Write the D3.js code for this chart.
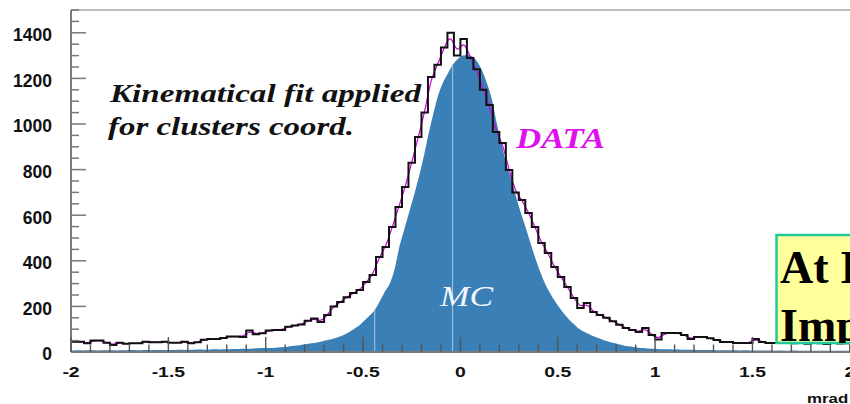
<!DOCTYPE html>
<html><head><meta charset="utf-8">
<script src="https://cdn.jsdelivr.net/npm/d3@7/dist/d3.min.js"></script>
<style>html,body{margin:0;padding:0;background:#fff;overflow:hidden}</style>
</head><body>
<svg id="chart" width="850" height="404"></svg>
<script>
// ---------- data ----------
const xDomain = [-2, 2];
const yDomain = [0, 1500];
const xTickLabels = ["-2", "-1.5", "-1", "-0.5", "0", "0.5", "1", "1.5", "2"];
const yTickLabels = ["0", "200", "400", "600", "800", "1000", "1200", "1400"];
const xUnit = "mrad";

// DATA histogram: 120 bins from -2 to 2
const dataCounts = [
  45, 45, 38, 50, 50, 41, 31, 41, 36, 38,
  38, 45, 43, 43, 45, 41, 41, 45, 38, 43,
  54, 57, 57, 61, 68, 68, 66, 94, 78, 82,
  94, 97, 97, 111, 116, 121, 137, 147, 132, 162,
  200, 219, 240, 259, 272, 307, 338, 417, 461, 548,
  636, 724, 830, 943, 1050, 1206, 1260, 1335, 1400, 1300,
  1373, 1290, 1240, 1150, 1083, 965, 917, 798, 700, 667,
  610, 548, 478, 434, 373, 329, 285, 237, 193, 215,
  175, 162, 150, 135, 120, 105, 96, 88, 105, 75,
  55, 83, 83, 83, 75, 57, 66, 66, 60, 53,
  44, 44, 40, 40, 40, 57, 44, 40, 40, 42,
  40, 38, 42, 36, 40, 38, 35, 40, 37, 38
];

// MC histogram: 160 bins from -2 to 2
const mcCounts = [
  7, 8, 7, 8, 8, 7, 8, 8, 8, 7, 8, 8, 9, 8, 8, 9, 8, 9, 9, 8,
  9, 9, 10, 9, 10, 10, 11, 10, 11, 12, 11, 12,
  12, 13, 13, 14, 14, 15, 16, 17,
  17, 18, 20, 21, 23, 26, 28, 32,
  35, 38, 42, 46, 51, 56, 62, 70,
  80, 92, 106, 122,
  142, 163, 188, 225,
  265, 300, 365, 465,
  540, 615, 690, 770,
  860, 960, 1050, 1130,
  1185, 1225, 1262, 1285,
  1300, 1303, 1296, 1272,
  1232, 1175, 1105, 1000,
  910, 820, 754, 675,
  605, 540, 470, 405,
  345, 295, 255, 220,
  190, 162, 138, 118,
  100, 88, 78, 68,
  60, 52, 45, 39,
  34, 29, 25, 22,
  19, 17, 15, 14,
  13, 12, 12, 11, 11, 10, 10, 10, 9, 9, 9, 9, 8, 8, 8, 8, 8, 7, 8, 7,
  7, 7, 7, 7, 6, 7, 6, 6, 7, 6, 6, 6, 6, 6, 6, 5, 6, 6, 5, 5
];
// thin empty lines seen inside the MC fill
const mcGapX = [-0.44, -0.04];

const noteLines = ["Kinematical fit applied", "for clusters coord."];
const dataLabel = "DATA";
const mcLabel = "MC";
const boxLines = ["At I", "Imp"];

// ---------- layout ----------
const svg = d3.select("#chart");
const x = d3.scaleLinear().domain(xDomain).range([71, 849.8]);
const y = d3.scaleLinear().domain(yDomain).range([352, 10]);

function edges(counts) {
  const w = (xDomain[1] - xDomain[0]) / counts.length;
  const pts = counts.map((v, i) => ({ x: xDomain[0] + i * w, v }));
  pts.push({ x: xDomain[1], v: counts[counts.length - 1] });
  return pts;
}
function centers(counts) {
  const w = (xDomain[1] - xDomain[0]) / counts.length;
  return counts.map((v, i) => ({ x: xDomain[0] + (i + 0.5) * w, v }));
}
function centersWithEnds(counts) {
  const c = centers(counts);
  return [{ x: xDomain[0], v: counts[0] }, ...c, { x: xDomain[1], v: counts[counts.length - 1] }];
}

// top frame line
svg.append("line").attr("x1", x(xDomain[0])).attr("x2", 850)
  .attr("y1", y(yDomain[1])).attr("y2", y(yDomain[1]))
  .attr("stroke", "#aaa").attr("stroke-width", 1.5);

// MC filled histogram (finely binned -> smooth outline)
const mcArea = d3.area().curve(d3.curveMonotoneX)
  .x(d => x(d.x)).y0(y(0)).y1(d => y(d.v));
svg.append("path").datum(centersWithEnds(mcCounts)).attr("d", mcArea)
  .attr("fill", "#3a7fb5");

// gaps in MC
const mcW = (xDomain[1] - xDomain[0]) / mcCounts.length;
svg.selectAll(".gap").data(mcGapX).join("line")
  .attr("x1", d => x(d)).attr("x2", d => x(d))
  .attr("y1", y(0))
  .attr("y2", d => y(mcCounts[Math.floor((d - xDomain[0]) / mcW)]))
  .attr("stroke", "#a9c8e2").attr("stroke-width", 1);

// magenta smooth curve through data
const smooth = d3.line().curve(d3.curveBasis).x(d => x(d.x)).y(d => y(d.v));
svg.append("path").datum(centers(dataCounts)).attr("d", smooth)
  .attr("fill", "none").attr("stroke", "#d000e0").attr("stroke-width", 1.2);

// black data steps
const step = d3.line().curve(d3.curveStepAfter).x(d => x(d.x)).y(d => y(d.v));
svg.append("path").datum(edges(dataCounts)).attr("d", step)
  .attr("fill", "none").attr("stroke", "#111").attr("stroke-width", 2);

// ---------- axes ----------
const axisG = svg.append("g");
axisG.append("line").attr("x1", x(xDomain[0])).attr("x2", x(xDomain[0]))
  .attr("y1", y(yDomain[1])).attr("y2", y(0))
  .attr("stroke", "#7a7a7a").attr("stroke-width", 2);
axisG.append("line").attr("x1", x(xDomain[0])).attr("x2", 850)
  .attr("y1", y(0)).attr("y2", y(0))
  .attr("stroke", "#7a7a7a").attr("stroke-width", 2);

// y ticks
const yMinor = d3.range(0, yDomain[1] + 1, 50);
axisG.selectAll(".ytick").data(yMinor).join("line")
  .attr("x1", x(xDomain[0])).attr("x2", d => x(xDomain[0]) + (d % 200 === 0 ? 15 : 8))
  .attr("y1", d => y(d)).attr("y2", d => y(d))
  .attr("stroke", "#777").attr("stroke-width", 1.5);
axisG.selectAll(".ylab").data(yTickLabels).join("text")
  .attr("x", 52).attr("y", d => y(+d) + 8.3)
  .attr("text-anchor", "end")
  .attr("font-family", "Liberation Sans, Arial, sans-serif")
  .attr("font-weight", "bold").attr("font-size", 17.5).attr("fill", "#111")
  .text(d => d);

// x ticks
const xMinor = d3.range(-20, 21).map(i => i / 10);
axisG.selectAll(".xtick").data(xMinor).join("line")
  .attr("x1", d => x(d)).attr("x2", d => x(d))
  .attr("y1", y(0)).attr("y2", d => y(0) - (Math.abs(Math.round(d * 10)) % 5 === 0 ? 15 : 7.5))
  .attr("stroke", "#555").attr("stroke-width", 1.4);
axisG.selectAll(".xlab").data(xTickLabels).join("text")
  .attr("transform", d => `translate(${x(+d)},376.5) scale(1.25,1)`)
  .attr("text-anchor", "middle")
  .attr("font-family", "Liberation Sans, Arial, sans-serif")
  .attr("font-weight", "bold").attr("font-size", 15.5).attr("fill", "#111")
  .text(d => d);
svg.append("text").attr("transform", "translate(807,403) scale(1.25,1)")
  .attr("font-family", "Liberation Sans, Arial, sans-serif")
  .attr("font-weight", "bold").attr("font-size", 13.5).attr("fill", "#111")
  .text(xUnit);

// ---------- annotations ----------
const serif = "Liberation Serif, Times New Roman, serif";
const noteG = svg.append("g").attr("font-family", serif)
  .attr("font-style", "italic").attr("font-weight", "bold")
  .attr("font-size", 26).attr("fill", "#111");
noteG.append("text").attr("x", 110).attr("y", 102)
  .attr("textLength", 311).attr("lengthAdjust", "spacingAndGlyphs").text(noteLines[0]);
noteG.append("text").attr("x", 108).attr("y", 135)
  .attr("textLength", 246).attr("lengthAdjust", "spacingAndGlyphs").text(noteLines[1]);

svg.append("text").attr("x", 516).attr("y", 148)
  .attr("font-family", serif).attr("font-style", "italic").attr("font-weight", "bold")
  .attr("font-size", 29).attr("fill", "#e010ee")
  .attr("textLength", 89).attr("lengthAdjust", "spacingAndGlyphs").text(dataLabel);

svg.append("text").attr("x", 440).attr("y", 306)
  .attr("font-family", serif).attr("font-style", "italic")
  .attr("font-size", 29).attr("fill", "#f2f6fa")
  .attr("textLength", 53).attr("lengthAdjust", "spacingAndGlyphs").text(mcLabel);

// yellow box
const box = svg.append("g");
box.append("clipPath").attr("id", "boxclip").append("rect")
  .attr("x", 776.5).attr("y", 235).attr("width", 120).attr("height", 108);
box.append("rect").attr("x", 776.5).attr("y", 235).attr("width", 120).attr("height", 108)
  .attr("fill", "#ffff9c").attr("stroke", "#1fc99c").attr("stroke-width", 2.5);
const boxT = box.append("g").attr("clip-path", "url(#boxclip)")
  .attr("font-family", serif).attr("font-weight", "bold").attr("font-size", 46).attr("fill", "#000");
boxT.append("text").attr("x", 780).attr("y", 283).text(boxLines[0]);
boxT.append("text").attr("x", 780).attr("y", 341).text(boxLines[1]);
</script>
</body></html>
